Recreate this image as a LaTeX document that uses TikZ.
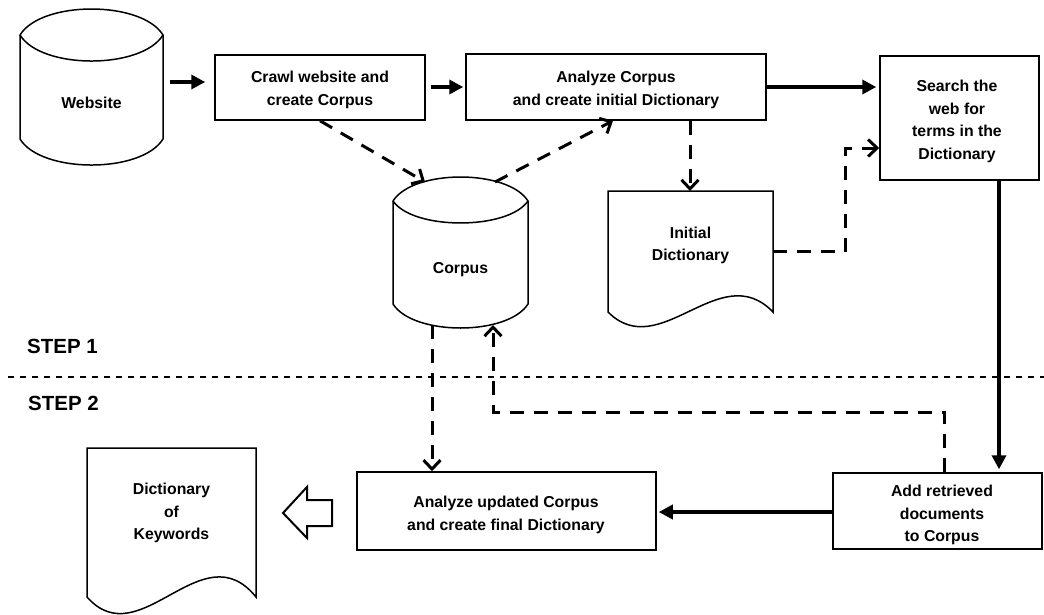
\documentclass[tikz,border=0pt]{standalone}
\usepackage{fontspec}
\setmainfont{Liberation Sans}
\usetikzlibrary{arrows.meta}
\tikzset{
  lbl/.style={font=\bfseries\fontsize{15.8}{22.4}\selectfont, align=center, inner sep=0pt},
  stepbox/.style={draw, line width=1.5pt, fill=white, inner sep=0pt},
  hold/.style={draw=none, inner sep=0pt, outer sep=0pt},
  outline/.style={line width=1.5pt, fill=white},
  sarrow/.style={line width=4pt, -{Triangle[length=14pt,width=14pt]}},
  darrow/.style={line width=3pt, dash pattern=on 14pt off 10pt, -{Straight Barb[length=9pt,width=17pt]}},
  sepline/.style={line width=1.3pt, dash pattern=on 6pt off 6pt},
  steplbl/.style={font=\bfseries\fontsize{20.5}{24}\selectfont, inner sep=0pt}
}
\begin{document}
\begin{tikzpicture}[x=1pt,y=-1pt]
\useasboundingbox (0,0) rectangle (1044,614);

% ---------- Website cylinder
\draw[outline] (20,35) .. controls (41.5,0.33) and (141.5,0.33) .. (163,35)
  -- (163,139) .. controls (141.5,173.7) and (41.5,173.7) .. (20,139) -- cycle;
\draw[line width=1.5pt] (20,35) .. controls (41.5,69.7) and (141.5,69.7) .. (163,35);
\node[hold, minimum width=143pt, minimum height=104pt] (web) at (91.5,87) {};
\node[lbl, anchor=base] (webt) at (91.5,108) {Website};

% ---------- Corpus cylinder
\draw[outline] (393,201) .. controls (413.25,169) and (507.75,169) .. (528,201)
  -- (528,304) .. controls (507.75,336) and (413.25,336) .. (393,304) -- cycle;
\draw[line width=1.5pt] (393,201) .. controls (413.25,230.3) and (507.75,230.3) .. (528,201);
\node[hold, minimum width=135pt, minimum height=103pt] (corpus) at (460.5,252.5) {};
\node[lbl, anchor=base] (corpust) at (460.5,273) {Corpus};
\coordinate (ctl) at (425,182);
\coordinate (ctr) at (495,182);
\coordinate (cbl) at (432,325);
\coordinate (cbr) at (493,325);

% ---------- Initial Dictionary document
\draw[outline] (608,191) -- (773,191) -- (773,312)
  .. controls (720,257) and (660,364) .. (608,312) -- cycle;
\node[hold, minimum width=165pt, minimum height=121pt] (idict) at (690.5,251.5) {};
\node[lbl] (idictt) at (690.5,245.4) {Initial\\Dictionary};

% ---------- Dictionary of Keywords document
\draw[outline] (87,448) -- (256,448) -- (256,597)
  .. controls (202,530) and (140,657) .. (87,597) -- cycle;
\node[hold, minimum width=169pt, minimum height=149pt] (kw) at (171.5,522.5) {};
\node[lbl] (kwt) at (171.5,513.3) {Dictionary\\of\\Keywords};

% ---------- Process boxes
\node[stepbox, minimum width=210pt, minimum height=65pt] (crawl) at (320,87.5) {};
\node[lbl] (crawlt) at (320,90) {Crawl website and\\create Corpus};
\node[stepbox, minimum width=300pt, minimum height=66pt] (an1) at (616,87) {};
\node[lbl] (an1t) at (616,90) {Analyze Corpus\\and create initial Dictionary};
\node[stepbox, minimum width=159pt, minimum height=124pt] (search) at (959.5,118) {};
\node[lbl] (searcht) at (957,121.5) {Search the\\web for\\terms in the\\Dictionary};
\node[stepbox, minimum width=209pt, minimum height=76pt] (add) at (937.5,511) {};
\node[lbl] (addt) at (942,515) {Add retrieved\\documents\\to Corpus};
\node[stepbox, minimum width=299pt, minimum height=78pt] (an2) at (506.5,511) {};
\node[lbl] (an2t) at (506,514.8) {Analyze updated Corpus\\and create final Dictionary};

% ---------- Step labels and separator
\node[steplbl, anchor=base west] (s1) at (27,353) {STEP 1};
\node[steplbl, anchor=base west] (s2) at (28,410) {STEP 2};
\draw[sepline] (8,377) -- (1044,377);

% ---------- Solid connectors
\draw[sarrow, shorten <=7pt, shorten >=9pt] (web.east |- 0,82) -- (crawl.west |- 0,82);
\draw[sarrow, shorten <=5pt, shorten >=2pt] (crawl.east |- 0,87) -- (an1.west |- 0,87);
\draw[sarrow, shorten >=3pt] (an1.east |- 0,87) -- (search.west |- 0,87);
\draw[sarrow, shorten >=3pt] (search.south -| 999,0) -- (add.north -| 999,0);
\draw[sarrow, shorten >=2pt] (add.west |- 0,512) -- (an2.east |- 0,512);

% ---------- Dashed connectors
\draw[darrow] (crawl.south -| 320,0) -- (ctl);
\draw[darrow] (ctr) -- (an1.south -| 613,0);
\draw[darrow] (an1.south -| 690,0) -- (idict.north -| 690,0);
\draw[darrow] (idict.east) -| (845,148) -- (search.west |- 0,148);
\draw[darrow] (cbl) -- (an2.north -| 432,0);
\draw[darrow] (add.north -| 944,0) |- (493,412) -- (cbr);

% ---------- Hollow arrow
\draw[line width=2pt, fill=white, line join=miter] (283,513) -- (307,487) -- (307,500) -- (332,500)
  -- (332,526) -- (307,526) -- (307,538) -- cycle;
\end{tikzpicture}
\end{document}
